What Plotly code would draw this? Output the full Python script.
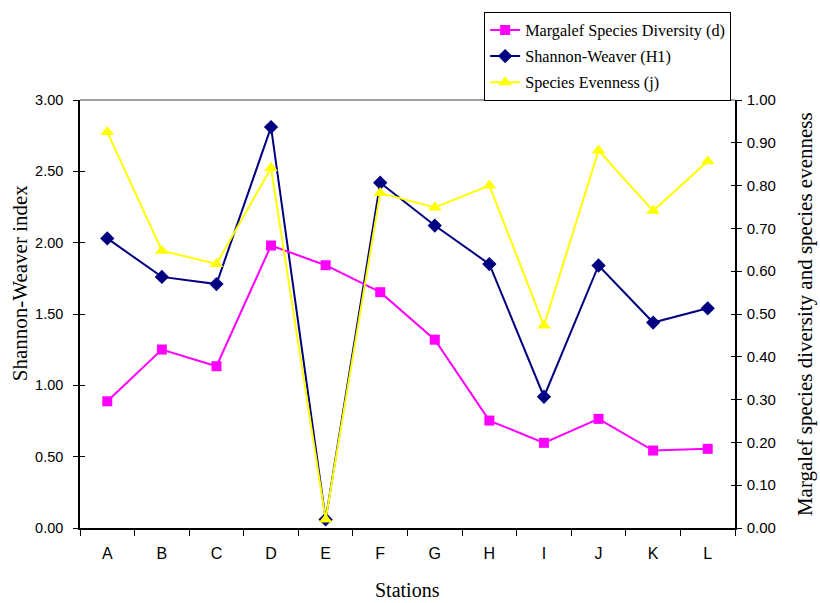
import plotly.graph_objects as go

stations = ["A", "B", "C", "D", "E", "F", "G", "H", "I", "J", "K", "L"]
margalef = [0.296, 0.417, 0.378, 0.660, 0.614, 0.551, 0.440, 0.251, 0.199, 0.255, 0.181, 0.185]
shannon = [2.03, 1.76, 1.71, 2.81, 0.06, 2.42, 2.12, 1.85, 0.92, 1.84, 1.44, 1.54]
evenness = [0.925, 0.648, 0.617, 0.841, 0.02, 0.783, 0.749, 0.800, 0.473, 0.882, 0.741, 0.857]

left_ticks = [0, 0.5, 1.0, 1.5, 2.0, 2.5, 3.0]
right_ticks = [i / 10 for i in range(11)]

fig = go.Figure()
fig.add_trace(go.Scatter(
    x=stations, y=margalef, name="Margalef Species Diversity (d)", yaxis="y2",
    mode="lines+markers", line=dict(color="#FF00FF", width=2),
    marker=dict(symbol="square", size=10, color="#FF00FF"), legendgroup="a"))
fig.add_trace(go.Scatter(
    x=stations, y=shannon, name="Shannon-Weaver (H1)", yaxis="y",
    mode="lines+markers", line=dict(color="#000080", width=2),
    marker=dict(symbol="diamond", size=11, color="#000080"), legendgroup="b"))
fig.add_trace(go.Scatter(
    x=stations, y=evenness, name="Species Evenness (j)", yaxis="y2",
    mode="lines+markers", line=dict(color="#FFFF00", width=2),
    marker=dict(symbol="triangle-up", size=12, color="#FFFF00"), legendgroup="c"))
# helper traces for inside tick marks
fig.add_trace(go.Scatter(x=[], y=[], yaxis="y3", showlegend=False, hoverinfo="skip"))
fig.add_trace(go.Scatter(x=[], y=[], yaxis="y4", showlegend=False, hoverinfo="skip"))

sans = "Liberation Sans, Arial"
serif = "Liberation Serif, Times New Roman"

fig.update_layout(
    width=820, height=603,
    margin=dict(l=80, r=85, t=100, b=75),
    paper_bgcolor="white", plot_bgcolor="white",
    showlegend=True,
    legend=dict(x=0.617, y=1.2056, xanchor="left", yanchor="top",
                bordercolor="black", borderwidth=1, bgcolor="white",
                font=dict(family=serif, size=16.2, color="black"),
                tracegroupgap=2, itemwidth=30),
    xaxis=dict(type="category", categoryorder="array", categoryarray=stations,
               range=[-0.5, 11.5], automargin=False,
               showline=True, linecolor="black", linewidth=1.5,
               ticks="outside", tickson="boundaries", ticklen=6, tickcolor="black",
               tickfont=dict(family=sans, size=16, color="black"), ticklabelstandoff=10,
               showgrid=False, zeroline=False),
    yaxis=dict(range=[0, 3], tickvals=left_ticks, tickformat=".2f", automargin=False,
               showline=True, linecolor="black", linewidth=1.5,
               ticks="outside", ticklen=5, tickcolor="black",
               tickfont=dict(family=sans, size=14.5, color="black"), ticklabelstandoff=7,
               showgrid=False, zeroline=False),
    yaxis2=dict(range=[0, 1], tickvals=right_ticks, tickformat=".2f", automargin=False,
                overlaying="y", side="right",
                showline=True, linecolor="black", linewidth=1.5,
                ticks="outside", ticklen=5, tickcolor="black",
                tickfont=dict(family=sans, size=15, color="black"), ticklabelstandoff=2,
                showgrid=False, zeroline=False),
    yaxis3=dict(range=[0, 3], tickvals=left_ticks, overlaying="y", side="left",
                showticklabels=False, ticks="inside", ticklen=5, tickcolor="black",
                showgrid=False, zeroline=False, showline=False, automargin=False),
    yaxis4=dict(range=[0, 1], tickvals=right_ticks, overlaying="y", side="right",
                showticklabels=False, ticks="inside", ticklen=4, tickcolor="black",
                showgrid=False, zeroline=False, showline=False, automargin=False),
    shapes=[dict(type="line", xref="paper", yref="paper", x0=0, x1=1, y0=1, y1=1,
                 line=dict(color="#808080", width=1.5))],
    annotations=[
        dict(text="Shannon-Weaver index", xref="paper", yref="paper",
             x=-0.0916, y=0.572, xanchor="center", yanchor="middle", textangle=-90,
             showarrow=False, font=dict(family=serif, size=21, color="black")),
        dict(text="Margalef species diversity and species evenness", xref="paper", yref="paper",
             x=1.107, y=0.5, xanchor="center", yanchor="middle", textangle=-90,
             showarrow=False, font=dict(family=serif, size=21, color="black")),
        dict(text="Stations", xref="paper", yref="paper",
             x=0.5, y=-0.145, xanchor="center", yanchor="middle",
             showarrow=False, font=dict(family=serif, size=20, color="black")),
    ],
)

fig.write_html(
    "out.html",
    config={"displayModeBar": False},
    post_script="document.body.style.margin='0';document.body.style.overflow='hidden';",
)
